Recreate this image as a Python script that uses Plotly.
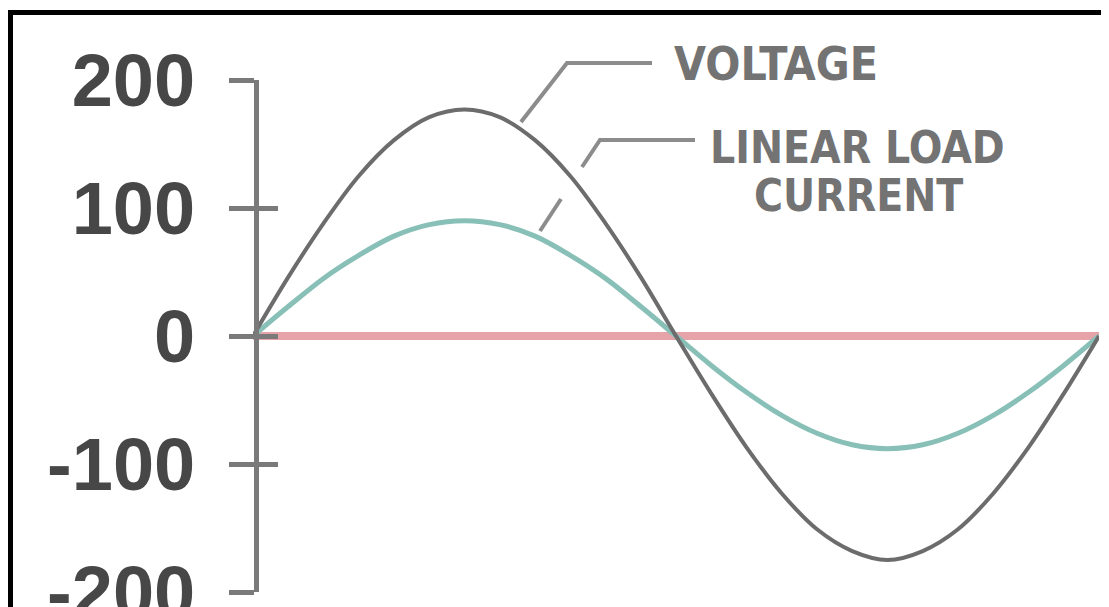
import plotly.graph_objects as go

# ---- data ----
phase_deg = [0, 15, 30, 45, 60, 75, 90, 105, 120, 135, 150, 165, 180,
             195, 210, 225, 240, 255, 270, 285, 300, 315, 330, 345, 360]
voltage = [0, 46, 88, 125, 153, 171, 177, 171, 153, 125, 88, 46, 0,
           -45, -87, -123, -151, -168, -175, -168, -151, -123, -87, -45, 0]
current = [0, 23, 45, 63, 78, 87, 90, 87, 78, 63, 45, 23, 0,
           -23, -44, -62, -76, -85, -88, -85, -76, -62, -44, -23, 0]
zero_line = [0] * len(phase_deg)
tick_vals = [200, 100, 0, -100, -200]
tick_text = ["200", "100", "0", "-100", "-200"]

# ---- layout geometry (screenshot pixels; page body has an 8px margin) ----
OFF = 8
W, H = 1109 - OFF, 607 - OFF
PL, PR, PT, PB = 253, 1099, 80, 592
AXIS_X = 256  # where the vertical axis line sits


def xp(px):
    return (px - PL) / (PR - PL)


def yp(py):
    return (PB - py) / (PB - PT)


fig = go.Figure()
fig.add_trace(go.Scatter(x=phase_deg, y=zero_line, mode="lines",
                         line=dict(color="#e6a3a8", width=8), hoverinfo="skip"))
fig.add_trace(go.Scatter(x=phase_deg, y=current, mode="lines",
                         line=dict(color="#88c0b8", width=5, shape="spline"),
                         hoverinfo="skip"))
fig.add_trace(go.Scatter(x=phase_deg, y=voltage, mode="lines",
                         line=dict(color="#6c6c6c", width=4, shape="spline"),
                         hoverinfo="skip"))
# invisible trace on second y axis so the inside half of each tick is drawn
fig.add_trace(go.Scatter(x=[phase_deg[0]], y=[0], yaxis="y2", mode="markers",
                         marker=dict(opacity=0), hoverinfo="skip"))

label_font = "Liberation Sans Narrow, DejaVu Sans Condensed, Arial Narrow, sans-serif"
label_col = "#737373"
leader_col = "#8c8c8c"


def path(points):
    s = "M {} {}".format(xp(points[0][0]), yp(points[0][1]))
    for p in points[1:]:
        s += " L {} {}".format(xp(p[0]), yp(p[1]))
    return s


shapes = [
    # frame
    dict(type="rect", xref="paper", yref="paper",
         x0=xp(10.5), x1=xp(1105), y0=yp(700), y1=yp(12.5),
         line=dict(color="#000000", width=5), fillcolor="rgba(0,0,0,0)", layer="above"),
    # voltage leader
    dict(type="path", xref="paper", yref="paper",
         path=path([(521, 122), (567, 63), (652, 63)]),
         line=dict(color=leader_col, width=4)),
    # current leader (broken where it crosses the voltage curve)
    dict(type="path", xref="paper", yref="paper",
         path=path([(540, 231), (561, 199)]),
         line=dict(color=leader_col, width=4)),
    dict(type="path", xref="paper", yref="paper",
         path=path([(582, 167), (600, 140), (695, 140)]),
         line=dict(color=leader_col, width=4)),
]

annotations = [
    dict(text="<b>VOLTAGE</b>", xref="paper", yref="paper", x=xp(776), y=yp(64),
         xanchor="center", yanchor="middle", showarrow=False,
         font=dict(family=label_font, size=46, color=label_col)),
    dict(text="<b>LINEAR LOAD</b>", xref="paper", yref="paper", x=xp(857), y=yp(147),
         xanchor="center", yanchor="middle", showarrow=False,
         font=dict(family=label_font, size=44, color=label_col)),
    dict(text="<b>CURRENT</b>", xref="paper", yref="paper", x=xp(858), y=yp(195),
         xanchor="center", yanchor="middle", showarrow=False,
         font=dict(family=label_font, size=44, color=label_col)),
]

fig.update_layout(
    width=W, height=H,
    margin=dict(l=PL - OFF, r=(OFF + W) - PR, t=PT - OFF, b=(OFF + H) - PB,
                autoexpand=False),
    paper_bgcolor="white", plot_bgcolor="white",
    showlegend=False,
    xaxis=dict(range=[0, 360], visible=False, showgrid=False, zeroline=False),
    yaxis=dict(range=[-200, 200], tickmode="array", tickvals=tick_vals,
               ticktext=tick_text, ticks="outside", ticklen=25, tickwidth=5,
               anchor="free", position=xp(AXIS_X),
               tickcolor="#7a7a7a", showline=True, linecolor="#7a7a7a",
               linewidth=5, showgrid=False, zeroline=False,
               ticklabelstandoff=19, ticklabeloverflow="allow",
               tickfont=dict(family="Liberation Sans, Arial, sans-serif",
                             size=74, color="#474747", weight="bold")),
    yaxis2=dict(range=[-200, 200], overlaying="y", side="left",
                anchor="free", position=xp(AXIS_X),
                tickmode="array", tickvals=tick_vals, ticks="inside",
                ticklen=21, tickwidth=5, tickcolor="#7a7a7a",
                showticklabels=False, showline=False, showgrid=False,
                zeroline=False),
    shapes=shapes,
    annotations=annotations,
)

fig.write_html("out.html")
